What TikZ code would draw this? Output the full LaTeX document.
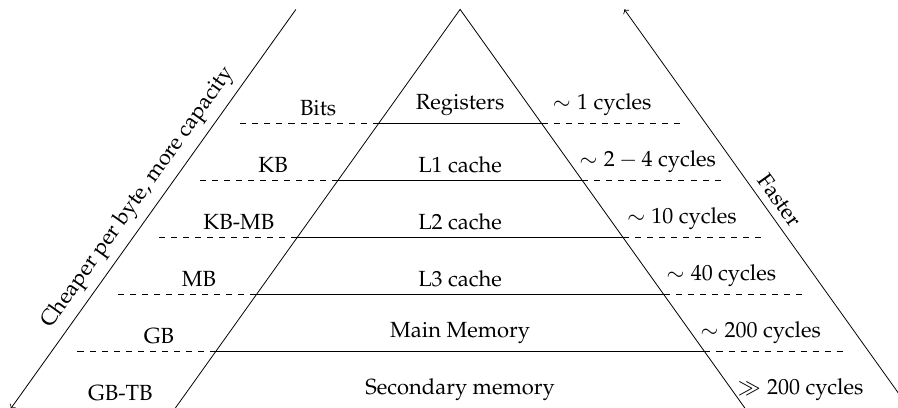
\documentclass[tikz,border=0pt,11pt]{standalone}
\usepackage[T1]{fontenc}
\usepackage{mathpazo}
\begin{document}
\begin{tikzpicture}[lbl/.style={above}, sepline/.style={dashed}, axisarrow/.style={->}]
\useasboundingbox (-8.07,0.025) rectangle (7.68,7.165);
% pyramid
\coordinate (apex) at (0,7);
\coordinate (bl) at (-5,0);
\coordinate (br) at (5,0);
\draw (bl) -- (apex) -- (br);
\draw[sepline] (bl) -- ++(-2.45,0);
\draw[sepline] (br) -- ++(2.45,0);
\foreach \y in {1,...,5} {
  \pgfmathsetmacro\hw{5*(7-\y)/7}
  \coordinate (L\y) at (-\hw,\y);
  \coordinate (R\y) at (\hw,\y);
  \draw (L\y) -- (R\y);
  \draw[sepline] (L\y) -- ++(-2.45,0);
  \draw[sepline] (R\y) -- ++(2.45,0);
}
% level names
\node[lbl] (reg) at (0,5) {Registers};
\node[lbl] (l1) at (0,4) {L1 cache};
\node[lbl] (l2) at (0,3) {L2 cache};
\node[lbl] (l3) at (0,2) {L3 cache};
\node[lbl] (mm) at (0,1) {Main Memory};
\node[lbl] (sm) at (0,0) {Secondary memory};
% capacities
\node[lbl] (c5) at (-2.49,5) {Bits};
\node[lbl] (c4) at (-3.28,4) {KB};
\node[lbl] (c3) at (-3.88,3) {KB-MB};
\node[lbl] (c2) at (-4.58,2) {MB};
\node[lbl] (c1) at (-5.28,1) {GB};
\node[lbl] (c0) at (-5.96,0) {GB-TB};
% latencies
\node[lbl] (t5) at (2.49,5) {$\sim 1$ cycles};
\node[lbl] (t4) at (3.29,4) {$\sim 2-4$ cycles};
\node[lbl] (t3) at (3.89,3) {$\sim 10$ cycles};
\node[lbl] (t2) at (4.58,2) {$\sim 40$ cycles};
\node[lbl] (t1) at (5.27,1) {$\sim 200$ cycles};
\node[lbl] (t0) at (5.97,0) {$\gg 200$ cycles};
% side arrows
\coordinate (cheapTop) at (-2.88,7);
\coordinate (cheapBot) at (-7.88,0);
\draw[axisarrow] (cheapTop) -- node[midway, above, sloped] (cheap) {Cheaper per byte, more capacity} (cheapBot);
\coordinate (fastBot) at (7.88,0);
\coordinate (fastTop) at (2.88,7);
\draw[axisarrow] (fastBot) -- node[midway, above, sloped] (fast) {Faster} (fastTop);
\end{tikzpicture}
\end{document}
